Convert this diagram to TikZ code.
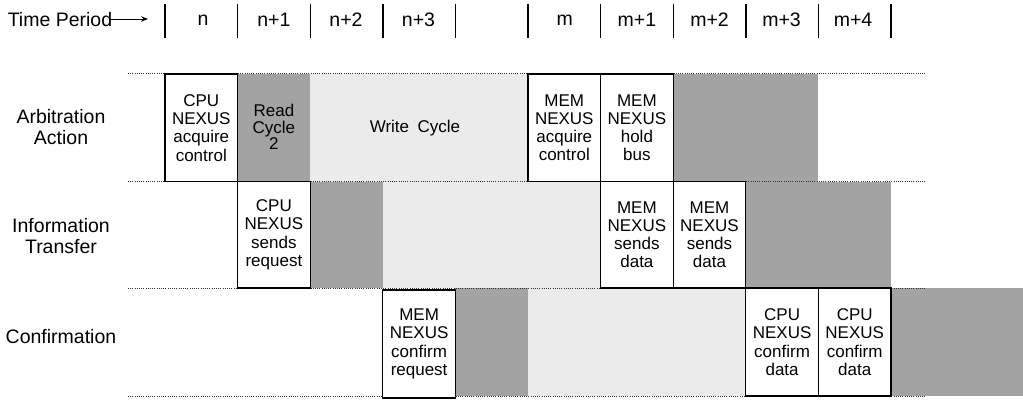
\documentclass[tikz,border=0pt]{standalone}
\usepackage{fontspec}
\setmainfont{Liberation Sans}
\usetikzlibrary{arrows.meta}
\begin{document}
\begin{tikzpicture}[x=1pt,y=-1pt,
  boxfont/.style={font=\fontsize{17}{18.3}\selectfont},
  lblfont/.style={font=\fontsize{19.5}{21}\selectfont},
  cell/.style={draw=black, line width=1.1pt, fill=white, minimum width=72.6pt, inner sep=0pt, align=center, boxfont},
  rowa/.style={minimum height=107.5pt},
  rowb/.style={minimum height=106.5pt},
  rowc/.style={minimum height=108pt},
  dark/.style={fill=black!36},
  light/.style={fill=black!8},
  sep/.style={draw=black!80, line width=1pt, dash pattern=on 1pt off 1.2pt},
  tickline/.style={line width=1.4pt},
  rowlabel/.style={align=center, lblfont, inner sep=0pt},
  period/.style={lblfont, inner sep=0pt},
  shadetext/.style={align=center, boxfont, inner sep=0pt}]
\useasboundingbox (0,0) rectangle (1023,404);

% shaded regions
\fill[dark]  (237.6,74) rectangle (310.2,181.5);
\fill[light] (310.2,74) rectangle (528,181.5);
\fill[dark]  (673.2,74) rectangle (818.4,181.5);
\fill[dark]  (310.2,181.5) rectangle (382.8,288);
\fill[light] (382.8,181.5) rectangle (600.6,288);
\fill[dark]  (745.8,181.5) rectangle (891,288);
\fill[dark]  (455.4,288) rectangle (528,396);
\fill[light] (528,288) rectangle (745.8,396);
\fill[dark]  (891,288) rectangle (1023,396);

% row separators
\foreach \yy in {74,181.5,288,396} \draw[sep] (128,\yy) -- (925,\yy);

% header
\node[lblfont, inner sep=0pt] (tp) at (60,20) {Time Period};
\coordinate (tpend) at (148,19);
\draw[line width=0.9pt, -{Stealth[length=7pt,width=5.5pt]}, shorten <=-3pt] (tp.east |- tpend) -- (tpend);
\foreach \k in {0,...,10} \draw[tickline] ({165+72.6*\k},4) -- ({165+72.6*\k},38);
\node[period] (pn)  at (203,20) {n};
\node[period] (pn1) at (273.9,20) {n+1};
\node[period] (pn2) at (346,20) {n+2};
\node[period] (pn3) at (418.5,20) {n+3};
\node[period] (pm)  at (564.8,20) {m};
\node[period] (pm1) at (636.9,20) {m+1};
\node[period] (pm2) at (709.5,20) {m+2};
\node[period] (pm3) at (781.5,20) {m+3};
\node[period] (pm4) at (853,20) {m+4};

% row labels
\node[rowlabel] (la) at (61,127) {Arbitration\\Action};
\node[rowlabel] (lb) at (61,236) {Information\\Transfer};
\node[rowlabel] (lc) at (61,337) {Confirmation};

% row 1: arbitration
\node[cell,rowa] (a1) at (201.3,127.75) {CPU\\NEXUS\\acquire\\control};
\node[shadetext, font=\fontsize{17}{16.3}\selectfont] (a2) at (273.9,127) {Read\\Cycle\\2};
\node[shadetext] (a3) at (415,128) {Write\enspace Cycle};
\node[cell,rowa] (a5) at (564.3,127.75) {MEM\\NEXUS\\acquire\\control};
\node[cell,rowa] (a6) at (636.9,127.75) {MEM\\NEXUS\\hold\\bus};

% row 2: information transfer
\node[cell,rowb] (b1) at (273.9,234.75) {CPU\\NEXUS\\sends\\request};
\node[cell,rowb] (b6) at (636.9,234.75) {MEM\\NEXUS\\sends\\data};
\node[cell,rowb] (b7) at (709.5,234.75) {MEM\\NEXUS\\sends\\data};

% row 3: confirmation
\node[cell,rowc] (c3) at (419.1,344) {MEM\\NEXUS\\confirm\\request};
\node[cell,rowc] (c8) at (782.1,342) {CPU\\NEXUS\\confirm\\data};
\node[cell,rowc] (c9) at (854.7,342) {CPU\\NEXUS\\confirm\\data};
\end{tikzpicture}
\end{document}
